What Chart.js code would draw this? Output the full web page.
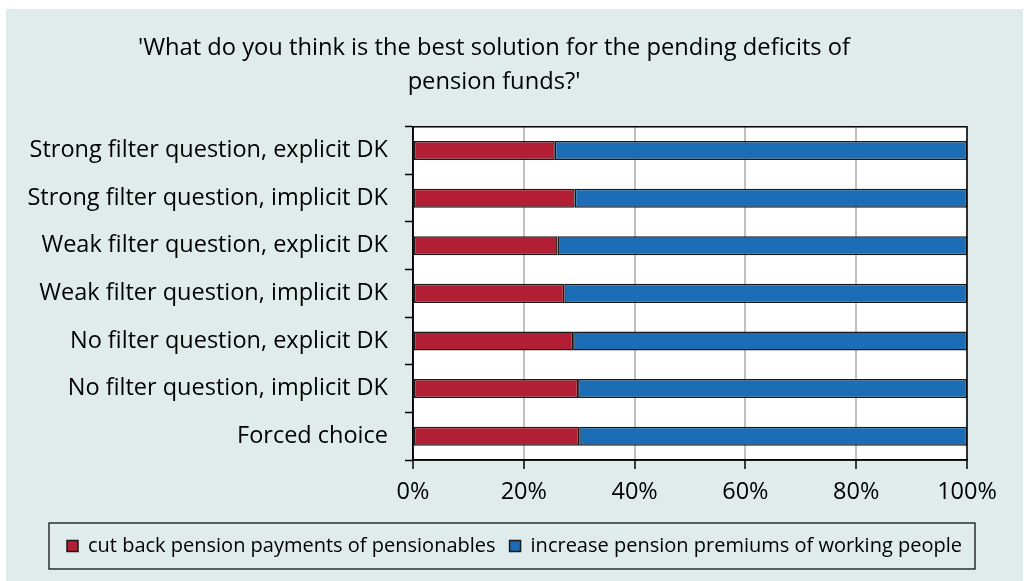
<!DOCTYPE html>
<html>
<head>
<meta charset="utf-8">
<script src="https://cdn.jsdelivr.net/npm/chart.js@4.4.0/dist/chart.umd.min.js"></script>
<style>
  body { margin: 0; background: #fff; }
  #wrap { position: absolute; left: 6px; top: 9px; width: 1017px; height: 572px; background: #dfeceb; }
</style>
</head>
<body>
<div id="wrap"><canvas id="chart" width="1017" height="572"></canvas></div>
<script>
const categories = [
  'Strong filter question, explicit DK',
  'Strong filter question, implicit DK',
  'Weak filter question, explicit DK',
  'Weak filter question, implicit DK',
  'No filter question, explicit DK',
  'No filter question, implicit DK',
  'Forced choice'
];
const cutBack = [25.6, 29.2, 26.1, 27.3, 28.9, 29.8, 30.0];
const increase = [74.4, 70.8, 73.9, 72.7, 71.1, 70.2, 70.0];
const xTicks = ['0%', '20%', '40%', '60%', '80%', '100%'];

const font = { family: 'Open Sans', size: 23.5 };

// white plot background, black frame, framed legend centred on the canvas
const plotFrame = {
  id: 'plotFrame',
  afterUpdate(chart) {
    const lg = chart.legend;
    const shift = chart.width / 2 - (lg.left + lg.right) / 2;
    lg.left += shift;
    lg.right += shift;
    lg.legendHitBoxes.forEach(b => { b.left += shift; });
  },
  beforeDraw(chart) {
    const a = chart.chartArea;
    chart.ctx.save();
    chart.ctx.fillStyle = '#fff';
    chart.ctx.fillRect(a.left, a.top, a.right - a.left, a.bottom - a.top);
    chart.ctx.restore();
  },
  afterDraw(chart) {
    const a = chart.chartArea;
    const ctx = chart.ctx;
    ctx.save();
    ctx.strokeStyle = '#000';
    ctx.lineWidth = 1.5;
    ctx.strokeRect(a.left, a.top, a.right - a.left, a.bottom - a.top);
    const boxes = chart.legend.legendHitBoxes;
    if (boxes.length) {
      const left = Math.min(...boxes.map(b => b.left)) - 18;
      const right = Math.max(...boxes.map(b => b.left + b.width)) + 13;
      const mid = boxes[0].top + boxes[0].height / 2;
      ctx.lineWidth = 1.2;
      ctx.strokeRect(left, mid - 23, right - left, 46);
    }
    ctx.restore();
  }
};

new Chart(document.getElementById('chart'), {
  type: 'bar',
  data: {
    labels: categories,
    datasets: [
      {
        label: 'cut back pension payments of pensionables',
        data: cutBack,
        backgroundColor: '#b21f35',
        borderColor: '#1a1a1a',
        borderWidth: 1.5,
        borderSkipped: false,
        barPercentage: 0.4,
        categoryPercentage: 1
      },
      {
        label: 'increase pension premiums of working people',
        data: increase,
        backgroundColor: '#1b6db5',
        borderColor: '#1a1a1a',
        borderWidth: 1.5,
        borderSkipped: false,
        barPercentage: 0.4,
        categoryPercentage: 1
      }
    ]
  },
  options: {
    indexAxis: 'y',
    responsive: false,
    animation: false,
    devicePixelRatio: 1,
    layout: { padding: { left: 15, right: 56, top: 0, bottom: 15 } },
    plugins: {
      title: {
        display: true,
        text: ["'What do you think is the best solution for the pending deficits of", "pension funds?'"],
        color: '#000',
        font: { family: 'Open Sans', size: 23.7, weight: 'normal', lineHeight: 1.43 },
        padding: { top: 22.5, bottom: 27.5 }
      },
      legend: {
        position: 'bottom',
        labels: {
          color: '#000',
          font: { family: 'Open Sans', size: 20 },
          boxWidth: 11,
          boxHeight: 11,
          padding: 14
        }
      },
      tooltip: { enabled: false }
    },
    scales: {
      x: {
        stacked: true,
        min: 0,
        max: 100,
        ticks: {
          stepSize: 20,
          color: '#000',
          font: font,
          padding: 9,
          callback: (v, i) => xTicks[i]
        },
        grid: { color: '#c0c0c0', lineWidth: 2, tickColor: '#000', tickLength: 9, tickWidth: 1.5 },
        border: { color: '#000', width: 1.5 },
        afterFit: s => { s.height = 62; }
      },
      y: {
        stacked: true,
        ticks: { color: '#000', font: font, padding: 17 },
        grid: { offset: true, drawOnChartArea: false, tickColor: '#000', tickLength: 8, tickWidth: 1.5 },
        border: { color: '#000', width: 1.5 },
        afterFit: s => { s.width = 392; }
      }
    }
  },
  plugins: [plotFrame]
});
</script>
</body>
</html>
